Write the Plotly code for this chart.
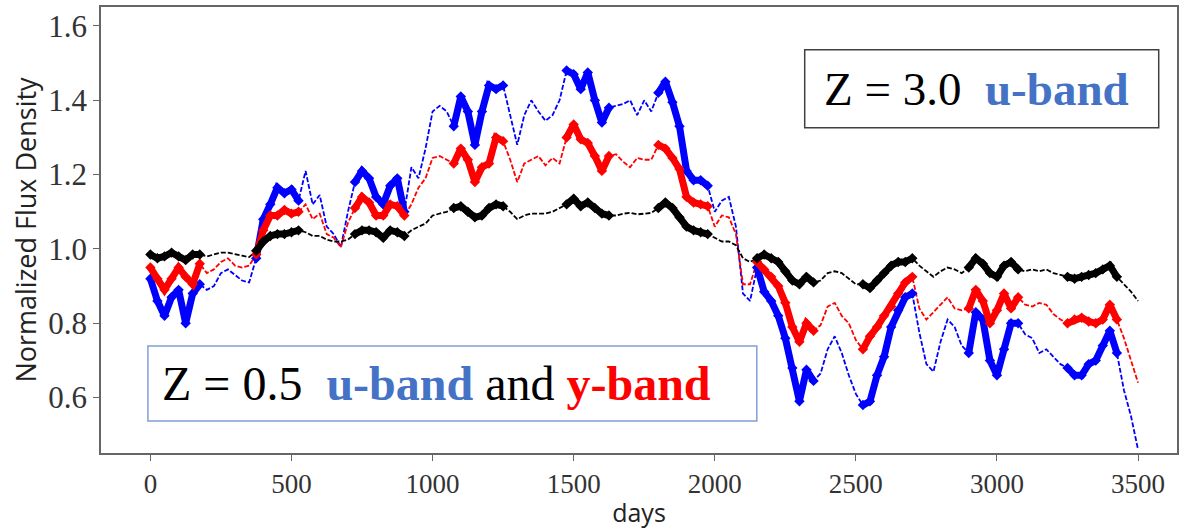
import plotly.graph_objects as go

# ---------------- data ----------------
days = list(range(0, 3501, 25))

# Z = 3.0, u-band (black)
flux_z30_u = [
    0.985, 0.975, 0.98, 0.99, 0.98, 0.97, 0.985, 0.985, 0.98, 0.985,
    0.99, 0.99, 0.985, 0.982, 0.978, 0.995, 1.02, 1.035, 1.04, 1.04,
    1.045, 1.05, 1.045, 1.035, 1.035, 1.025, 1.02, 1.02, 1.025, 1.04,
    1.05, 1.05, 1.045, 1.03, 1.05, 1.045, 1.035, 1.05, 1.06, 1.068,
    1.09, 1.095, 1.10, 1.11, 1.115, 1.10, 1.085, 1.09, 1.11, 1.12,
    1.115, 1.10, 1.08, 1.09, 1.095, 1.095, 1.095, 1.10, 1.11, 1.12,
    1.135, 1.115, 1.125, 1.11, 1.095, 1.09, 1.09, 1.095, 1.097, 1.093,
    1.095, 1.097, 1.11, 1.125, 1.11, 1.085, 1.06, 1.05, 1.045, 1.04,
    1.03, 1.02, 1.02, 1.01, 0.975, 0.965, 0.975, 0.985, 0.975, 0.965,
    0.94, 0.915, 0.905, 0.925, 0.91, 0.915, 0.935, 0.94, 0.935, 0.92,
    0.905, 0.905, 0.895, 0.915, 0.935, 0.955, 0.965, 0.965, 0.975, 0.955,
    0.94, 0.925, 0.94, 0.95, 0.945, 0.935, 0.95, 0.975, 0.96, 0.935,
    0.925, 0.955, 0.965, 0.945, 0.94, 0.945, 0.94, 0.945, 0.935, 0.93,
    0.925, 0.92, 0.925, 0.93, 0.935, 0.945, 0.955, 0.925, 0.905, 0.885,
    0.86,
]

# Z = 0.5, y-band (red)
flux_z05_y = [
    0.95, 0.92, 0.89, 0.92, 0.95, 0.925, 0.905, 0.96, 0.935, 0.945,
    0.965, 0.975, 0.955, 0.95, 0.955, 0.985, 1.05, 1.09, 1.09, 1.105,
    1.095, 1.10, 1.12, 1.08, 1.095, 1.04, 1.03, 1.005, 1.07, 1.11,
    1.14, 1.125, 1.09, 1.09, 1.12, 1.115, 1.09, 1.12, 1.165, 1.19,
    1.245, 1.25, 1.24, 1.23, 1.27, 1.24, 1.18, 1.22, 1.23, 1.30,
    1.29, 1.24, 1.18, 1.23, 1.24, 1.25, 1.225, 1.245, 1.23, 1.30,
    1.335, 1.295, 1.285, 1.25, 1.21, 1.25, 1.255, 1.235, 1.22, 1.245,
    1.24, 1.24, 1.28, 1.27, 1.245, 1.215, 1.14, 1.125, 1.12, 1.115,
    1.06, 1.09, 1.085, 1.04, 0.905, 0.905, 0.965, 0.945, 0.925, 0.90,
    0.855, 0.79, 0.75, 0.80, 0.78, 0.795, 0.845, 0.855, 0.82, 0.80,
    0.755, 0.73, 0.765, 0.79, 0.82, 0.845, 0.88, 0.91, 0.925, 0.84,
    0.81, 0.83, 0.85, 0.87, 0.84, 0.835, 0.84, 0.89, 0.86, 0.80,
    0.835, 0.88, 0.84, 0.87, 0.85, 0.845, 0.855, 0.85, 0.825, 0.81,
    0.80, 0.81, 0.815, 0.805, 0.80, 0.81, 0.85, 0.81, 0.76, 0.70,
    0.64,
]

# Z = 0.5, u-band (blue)
flux_z05_u = [
    0.92, 0.86, 0.82, 0.87, 0.89, 0.80, 0.88, 0.905, 0.89, 0.90,
    0.935, 0.945, 0.93, 0.915, 0.91, 0.975, 1.08, 1.12, 1.165, 1.15,
    1.16, 1.13, 1.21, 1.12, 1.145, 1.06, 1.04, 1.005, 1.10, 1.18,
    1.21, 1.19, 1.14, 1.12, 1.17, 1.19, 1.10, 1.22, 1.19, 1.27,
    1.37, 1.385, 1.37, 1.33, 1.41, 1.37, 1.28, 1.37, 1.44, 1.43,
    1.44, 1.36, 1.28, 1.36, 1.40, 1.37, 1.345, 1.36, 1.40, 1.48,
    1.47, 1.43, 1.475, 1.40, 1.34, 1.38, 1.385, 1.39, 1.40, 1.36,
    1.40, 1.37, 1.42, 1.45, 1.395, 1.33, 1.21, 1.185, 1.185, 1.17,
    1.10, 1.13, 1.14, 1.06, 0.88, 0.86, 0.95, 0.885, 0.86, 0.82,
    0.76, 0.68, 0.59, 0.675, 0.645, 0.665, 0.73, 0.765, 0.72, 0.66,
    0.61, 0.58, 0.59, 0.66, 0.71, 0.79, 0.835, 0.87, 0.88, 0.775,
    0.69, 0.67, 0.75, 0.81, 0.79, 0.74, 0.72, 0.83, 0.81, 0.70,
    0.66, 0.73, 0.80, 0.80, 0.77, 0.76, 0.72, 0.73, 0.71, 0.69,
    0.68, 0.66, 0.66, 0.69, 0.70, 0.74, 0.78, 0.72, 0.62, 0.55,
    0.46,
]

# observing seasons (densely sampled stretches, drawn thick)
season_starts = [0, 355, 715, 1070, 1455, 1800, 2145, 2510, 2895, 3240]
season_ends = [185, 545, 905, 1270, 1630, 1995, 2360, 2720, 3080, 3430]

x_ticks = [0, 500, 1000, 1500, 2000, 2500, 3000, 3500]
y_ticks = [0.6, 0.8, 1.0, 1.2, 1.4, 1.6]


def in_season(d):
    return any(a <= d <= b for a, b in zip(season_starts, season_ends))


def seasonal(vals):
    return [v if in_season(d) else None for d, v in zip(days, vals)]


series = [
    (flux_z05_u, "#0000ff", "Z=0.5 u-band"),
    (flux_z05_y, "#ff0000", "Z=0.5 y-band"),
    (flux_z30_u, "#000000", "Z=3.0 u-band"),
]

fig = go.Figure()
for vals, col, name in series:
    fig.add_trace(go.Scatter(
        x=days, y=vals, mode="lines", name=name, showlegend=False,
        line=dict(color=col, width=1.8, dash="5px,2px"),
        hoverinfo="skip"))
for vals, col, name in series:
    fig.add_trace(go.Scatter(
        x=days, y=seasonal(vals), mode="lines+markers", name=name + " obs",
        showlegend=False, connectgaps=False,
        line=dict(color=col, width=7),
        marker=dict(color=col, size=8, symbol="diamond"),
        hoverinfo="skip"))

serif = "Liberation Serif"
sans = "Open Sans"

fig.update_layout(
    width=1184, height=529,
    margin=dict(l=101, r=5, t=7, b=76),
    paper_bgcolor="white", plot_bgcolor="white",
    xaxis=dict(
        range=[-175, 3638], tickvals=x_ticks, ticktext=[str(t) for t in x_ticks],
        showgrid=False, zeroline=False, showline=True, mirror=True,
        linecolor="#666666", linewidth=1.5, ticks="outside", ticklen=6,
        tickcolor="#666666", tickfont=dict(family=serif, size=27, color="#333333"),
        title=dict(text="days", font=dict(family=sans, size=25, color="#222222"),
                   standoff=6),
    ),
    yaxis=dict(
        range=[0.451, 1.651], tickvals=y_ticks,
        ticktext=["%.1f" % t for t in y_ticks],
        showgrid=False, zeroline=False, showline=True, mirror=True,
        linecolor="#666666", linewidth=1.5, ticks="outside", ticklen=6,
        tickcolor="#666666", tickfont=dict(family=serif, size=31, color="#333333"),
        title=dict(text="Normalized Flux Density",
                   font=dict(family=sans, size=27, color="#222222"), standoff=4),
    ),
    shapes=[
        dict(type="rect", xref="paper", yref="paper", x0=0.654, x1=0.983,
             y0=0.729, y1=0.904, line=dict(color="#404040", width=1.5),
             fillcolor="white", layer="above"),
        dict(type="rect", xref="paper", yref="paper", x0=0.0436, x1=0.6095,
             y0=0.0717, y1=0.240, line=dict(color="#7fa0d8", width=1.5),
             fillcolor="white", layer="above"),
    ],
    annotations=[
        dict(xref="paper", yref="paper", x=0.814, y=0.816, showarrow=False,
             xanchor="center", yanchor="middle",
             font=dict(family=serif, size=47, color="black"),
             text="Z&nbsp;=&nbsp;3.0&nbsp;&nbsp;<b><span style='color:#4472C4'>u-band</span></b>"),
        dict(xref="paper", yref="paper", x=0.312, y=0.155, showarrow=False,
             xanchor="center", yanchor="middle",
             font=dict(family=serif, size=48, color="black"),
             text="Z&nbsp;=&nbsp;0.5&nbsp;&nbsp;<b><span style='color:#4472C4'>u-band</span></b>"
                  "&nbsp;and&nbsp;<b><span style='color:#ff0000'>y-band</span></b>"),
    ],
)

fig.write_html("out.html")
